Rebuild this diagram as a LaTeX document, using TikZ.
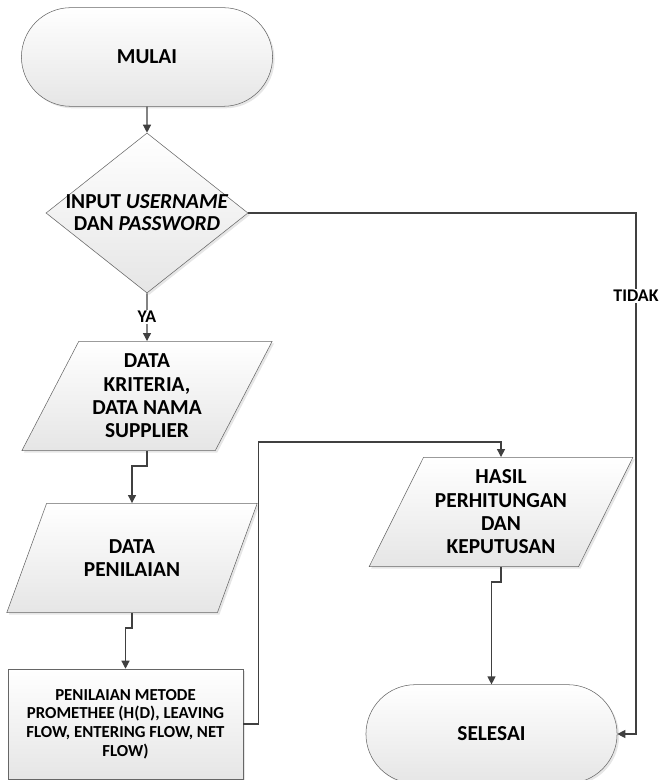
\documentclass[tikz,border=0pt]{standalone}
\usepackage{fontspec}
\setmainfont{Carlito}
\usetikzlibrary{shapes.geometric,shapes.misc,arrows.meta,calc,shadows}

\begin{document}
\begin{tikzpicture}[x=0.75pt, y=-0.75pt, >={Triangle[length=6pt,width=6pt]},
    every node/.style={align=center, text=black},
    base/.style={draw=black!60, thin, top color=white, bottom color=black!10,
        drop shadow={opacity=0.2, shadow xshift=1.5pt, shadow yshift=-1.5pt}},
    terminal/.style={base, rounded rectangle, minimum width=195pt, minimum height=74pt,
        font=\bfseries\fontsize{16}{17.5}\selectfont},
    decision/.style={base, diamond, aspect=1.26, inner sep=-2pt, minimum width=151.5pt,
        minimum height=120pt, font=\bfseries\fontsize{16}{16.5}\selectfont},
    io/.style={base, trapezium, trapezium left angle=62, trapezium right angle=118,
        trapezium stretches=true, minimum width=188pt, minimum height=82pt,
        font=\bfseries\fontsize{16}{17.5}\selectfont},
    process/.style={base, rectangle, minimum width=176pt, minimum height=82.5pt,
        font=\bfseries\fontsize{12.6}{14}\selectfont},
    flow/.style={->, draw=black!75, line width=0.9pt},
    lbl/.style={fill=white, inner sep=1pt, font=\bfseries\fontsize{13.4}{14}\selectfont}]

    \useasboundingbox (0,0) rectangle (659,780);

    \node[terminal] (mulai) at (147,57) {MULAI};
    \node[decision] (input) at (147,213) {INPUT \textit{USERNAME}\\DAN \textit{PASSWORD}};
    \node[io] (kriteria) at (147,396) {DATA\\KRITERIA,\\DATA NAMA\\SUPPLIER};
    \node[io] (penilaian) at (132,558) {DATA\\PENILAIAN};
    \node[process] (promethee) at (125.5,724) {PENILAIAN METODE\\PROMETHEE (H(D), LEAVING\\FLOW, ENTERING FLOW, NET\\FLOW)};
    \node[io, minimum width=198pt] (hasil) at (501,512) {HASIL\\PERHITUNGAN\\DAN\\KEPUTUSAN};
    \node[terminal] (selesai) at (491.5,734) {SELESAI};
    \coordinate (tbend) at (636,213);

    \draw[flow] (mulai) -- (input);
    \draw[flow] (input) -- node[lbl] {YA} (kriteria);
    \draw[flow] (kriteria.south) -- ++(0,15) -| (penilaian.north);
    \draw[flow] (penilaian.south) -- ++(0,15) -| (promethee.north);
    \draw[flow] (promethee.east) -- ++(15,0) |- ($(hasil.north)+(0,-15)$) -- (hasil.north);
    \draw[flow] (hasil.south) -- ++(0,15) -| (selesai.north);
    \draw[flow] (input.east) -- (tbend) |- (selesai.east);
    \node[lbl] (tidak) at (636,296) {TIDAK};
\end{tikzpicture}
\end{document}
